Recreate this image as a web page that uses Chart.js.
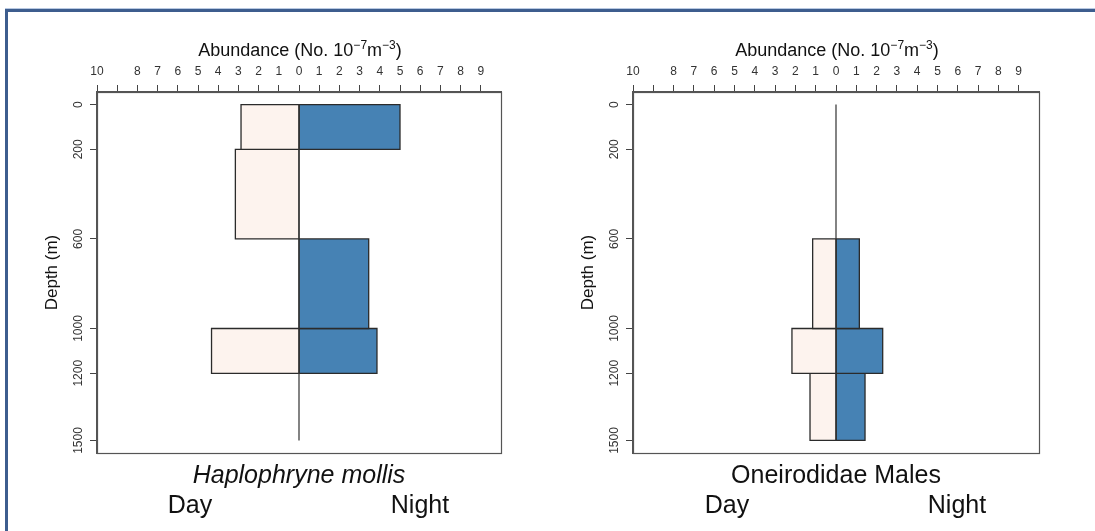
<!DOCTYPE html>
<html>
<head>
<meta charset="utf-8">
<script src="https://cdn.jsdelivr.net/npm/chart.js@4/dist/chart.umd.min.js"></script>
<style>
  body { margin: 0; background: #fff; font-family: "Liberation Sans", Arial, sans-serif; }
  #wrap { position: relative; width: 1095px; height: 531px; overflow: hidden; }
  #frame { position: absolute; left: 5px; top: 9px; width: 1200px; height: 700px;
           border: 3px solid #3d5d8e; box-shadow: 0 -1px 0 #b9c9e2; }
  canvas { position: absolute; top: 0; }
  .lbl { position: absolute; transform: translate(-50%, -50%); white-space: nowrap; color: #111; }
  .axt { font-size: 18px; }
  .axt sup { font-size: 12px; vertical-align: 0.55em; line-height: 0; }
  .sp { font-size: 25px; }
  .dn { font-size: 25px; }
</style>
</head>
<body>
<div id="wrap">
  <div id="frame"></div>
  <canvas id="left" width="520" height="531" style="left:0px"></canvas>
  <canvas id="right" width="520" height="531" style="left:536px"></canvas>

  <div class="lbl axt" style="left:300px;top:50px">Abundance (No. 10<sup>−7</sup>m<sup>−3</sup>)</div>
  <div class="lbl axt" style="left:837px;top:50px">Abundance (No. 10<sup>−7</sup>m<sup>−3</sup>)</div>

  <div class="lbl sp" style="left:299px;top:474px"><i>Haplophryne mollis</i></div>
  <div class="lbl dn" style="left:190px;top:504px">Day</div>
  <div class="lbl dn" style="left:420px;top:504px">Night</div>

  <div class="lbl sp" style="left:836px;top:474px">Oneirodidae Males</div>
  <div class="lbl dn" style="left:727px;top:504px">Day</div>
  <div class="lbl dn" style="left:957px;top:504px">Night</div>
</div>

<script>
// depth strata (m), one bar per stratum
const depthEdges = [0, 200, 600, 1000, 1200, 1500];
const depthTicks = [0, 200, 600, 1000, 1200, 1500];

// abundance per stratum, No. 10^-7 m^-3
const haploDay   = [2.87, 3.15, 0, 4.33, 0];
const haploNight = [5.0, 0, 3.45, 3.86, 0];
const oneiroDay   = [0, 0, 1.15, 2.17, 1.28];
const oneiroNight = [0, 0, 1.15, 2.3, 1.43];

// top axis: ticks every unit, "9" on the day side is dropped
const xTicks = [-10, -9, -8, -7, -6, -5, -4, -3, -2, -1, 0, 1, 2, 3, 4, 5, 6, 7, 8, 9];
const xHiddenLabels = [-9];

const dayColor = '#fdf3ee';
const nightColor = '#4682b4';

// one closed rectangle per non-empty stratum; day goes to the left (negative)
function rects(values, sign, color) {
  const out = [];
  values.forEach((v, i) => {
    if (!v) return;
    const top = depthEdges[i], bot = depthEdges[i + 1];
    const x = sign * v;
    out.push({
      data: [{x: 0, y: top}, {x: x, y: top}, {x: x, y: bot}, {x: 0, y: bot}, {x: 0, y: top}],
      showLine: true,
      fill: 'shape',
      backgroundColor: color,
      borderColor: '#2b2b2b',
      borderWidth: 1.3,
      pointRadius: 0,
      tension: 0
    });
  });
  return out;
}

// frame around the plotting region
const boxPlugin = {
  id: 'box',
  afterDraw(chart) {
    const a = chart.chartArea, ctx = chart.ctx;
    ctx.save();
    ctx.strokeStyle = '#555';
    ctx.lineWidth = 1.2;
    ctx.strokeRect(Math.round(a.left) + 0.5, Math.round(a.top) + 0.5,
                   Math.round(a.right - a.left), Math.round(a.bottom - a.top));
    ctx.restore();
  }
};

function drawChart(id, day, night, padRight) {
  const zeroLine = {
    data: [{x: 0, y: depthEdges[0]}, {x: 0, y: depthEdges[depthEdges.length - 1]}],
    showLine: true, borderColor: '#333', borderWidth: 1.2, pointRadius: 0, fill: false
  };
  const datasets = [zeroLine].concat(rects(day, -1, dayColor), rects(night, 1, nightColor));

  new Chart(document.getElementById(id), {
    type: 'scatter',
    data: { datasets: datasets },
    options: {
      responsive: false,
      animation: false,
      devicePixelRatio: 1,
      layout: { padding: { left: 0, top: 0, right: padRight, bottom: 78 } },
      plugins: { legend: { display: false }, tooltip: { enabled: false } },
      scales: {
        x: {
          type: 'linear',
          position: 'top',
          min: -10,
          max: 10,
          afterBuildTicks: s => { s.ticks = xTicks.map(v => ({ value: v })); },
          afterFit: s => { s.height = 92; },
          grid: { drawOnChartArea: false, tickLength: 7, tickColor: '#444', tickWidth: 1 },
          border: { color: '#555', width: 1.2 },
          ticks: {
            autoSkip: false, maxRotation: 0, padding: 6, color: '#333',
            font: { family: 'Liberation Sans', size: 12 },
            callback: v => xHiddenLabels.includes(v) ? '' : String(Math.abs(v))
          }
        },
        y: {
          type: 'linear',
          reverse: true,
          min: -56,
          max: 1556,
          afterBuildTicks: s => { s.ticks = depthTicks.map(v => ({ value: v })); },
          afterFit: s => { s.width = 97; },
          grid: { drawOnChartArea: false, tickLength: 7, tickColor: '#444', tickWidth: 1 },
          border: { color: '#555', width: 1.2 },
          title: {
            display: true, text: 'Depth (m)', color: '#111',
            font: { family: 'Liberation Sans', size: 17 },
            padding: { top: 42, bottom: 0 }
          },
          ticks: {
            autoSkip: false, minRotation: 90, maxRotation: 90, crossAlign: 'center',
            padding: -2, color: '#333',
            font: { family: 'Liberation Sans', size: 12 },
            callback: v => String(v)
          }
        }
      }
    },
    plugins: [boxPlugin]
  });
}

drawChart('left', haploDay, haploNight, 19);
drawChart('right', oneiroDay, oneiroNight, 17);
</script>
</body>
</html>
